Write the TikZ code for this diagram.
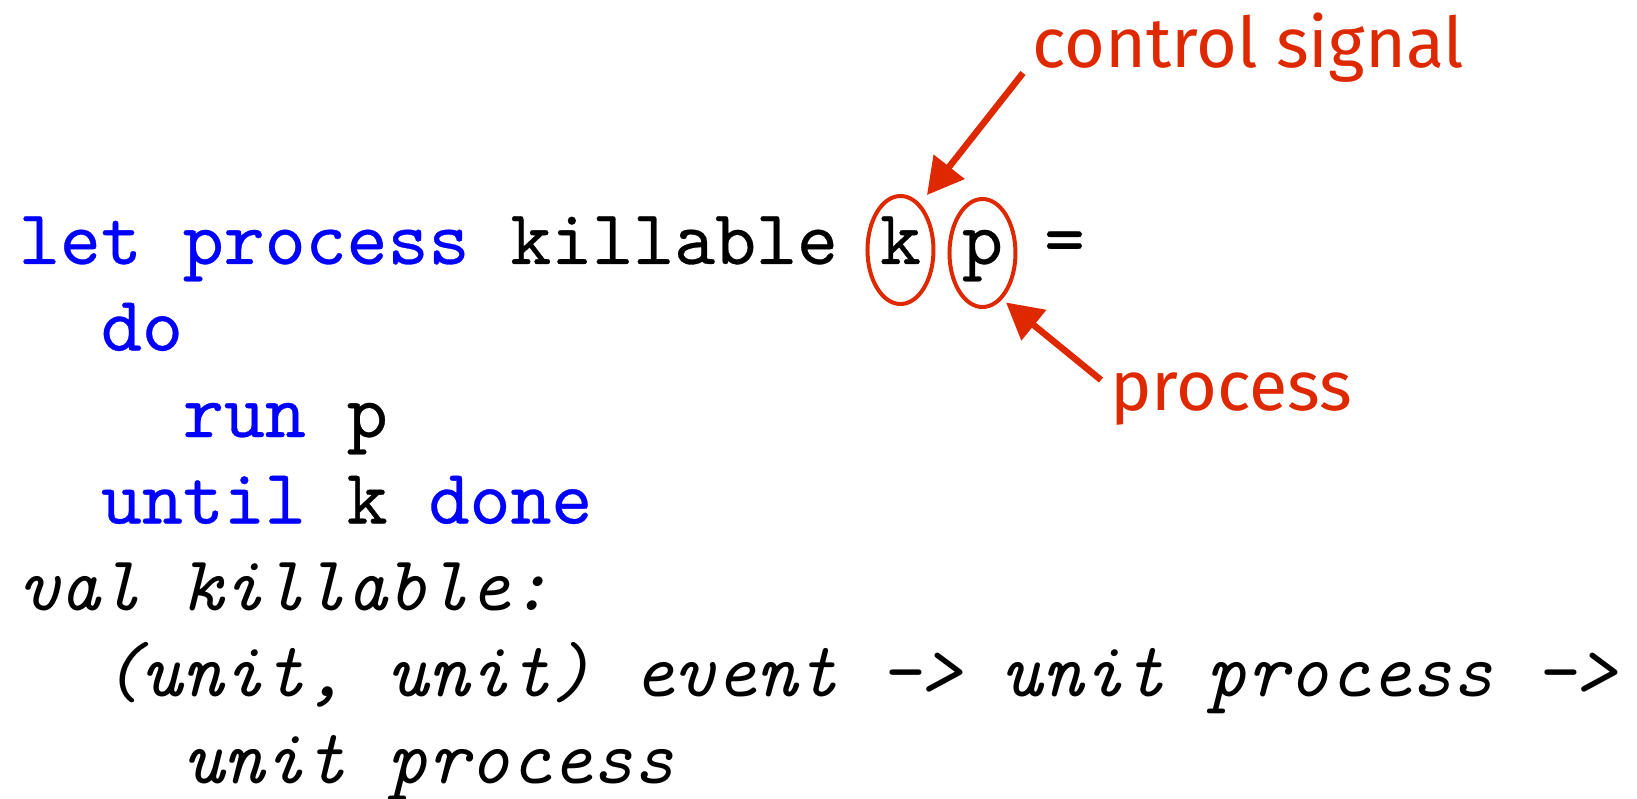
\documentclass[tikz,border=0pt]{standalone}
\usepackage{fontspec}
\usetikzlibrary{shapes.geometric,arrows.meta}
\newfontfamily\notefont{Fira Sans}
\newfontfamily\codefont{lmmono10-regular.otf}[FakeBold=0.4]
\newfontfamily\typefont{lmmono10-italic.otf}
\definecolor{annot}{RGB}{222,40,0}
\definecolor{kwblue}{RGB}{0,0,255}
\newcommand{\kw}[1]{\textcolor{kwblue}{#1}}
\frenchspacing
\begin{document}
\begin{tikzpicture}[x=1pt,y=-1pt,
  codeline/.style={anchor=base west, inner sep=0pt, outer sep=0pt,
    font=\fontsize{78}{94}\selectfont\codefont},
  typeline/.style={codeline, font=\fontsize{78}{94}\selectfont\typefont},
  note/.style={anchor=base west, inner sep=0pt, text=annot,
    font=\fontsize{70}{84}\selectfont\notefont},
  ringmark/.style={draw=annot, line width=4pt, ellipse, inner sep=0pt,
    minimum width=66pt, minimum height=108pt},
  pointer/.style={draw=annot, line width=6.5pt,
    -{Triangle[length=36pt,width=38pt]}}]
\useasboundingbox (0,0) rectangle (1637,799);
% column width of one monospaced character
\def\cw{41}
\def\xo{19}
% code
\node[codeline] (l1) at (\xo,264) {\kw{let process} killable};
\node[codeline] (kv) at (\xo+21*\cw,264) {k};
\node[codeline] (pv) at (\xo+23*\cw,264) {p};
\node[codeline] (eq) at (\xo+25*\cw,264) {=};
\node[codeline] (l2) at (\xo+2*\cw,350.5) {\kw{do}};
\node[codeline] (l3) at (\xo+4*\cw,437) {\kw{run} p};
\node[codeline] (l4) at (\xo+2*\cw,523.5) {\kw{until} k \kw{done}};
% type signature
\node[typeline] (t1) at (\xo,610) {val killable:};
\node[typeline] (t2) at (\xo+2*\cw,696.5) {(unit, unit) event -> unit process ->};
\node[typeline] (t3) at (\xo+4*\cw,783) {unit process};
% rings around the two parameters
\node[ringmark] (kring) at ([yshift=14pt]kv.base) {};
\node[ringmark] (pring) at ([yshift=11pt]pv.base) {};
% annotations
\node[note] (cs) at (1032,68) {control signal};
\node[note] (pr) at (1110,410) {process};
\coordinate (cstail) at ([xshift=-9pt,yshift=-5pt]cs.base west);
\coordinate (prtail) at ([xshift=-9pt,yshift=30pt]pr.base west);
\draw[pointer, shorten >=11pt] (cstail) -- (kring.67);
\draw[pointer, shorten >=5pt] (prtail) -- (pring.-67);
\end{tikzpicture}
\end{document}
